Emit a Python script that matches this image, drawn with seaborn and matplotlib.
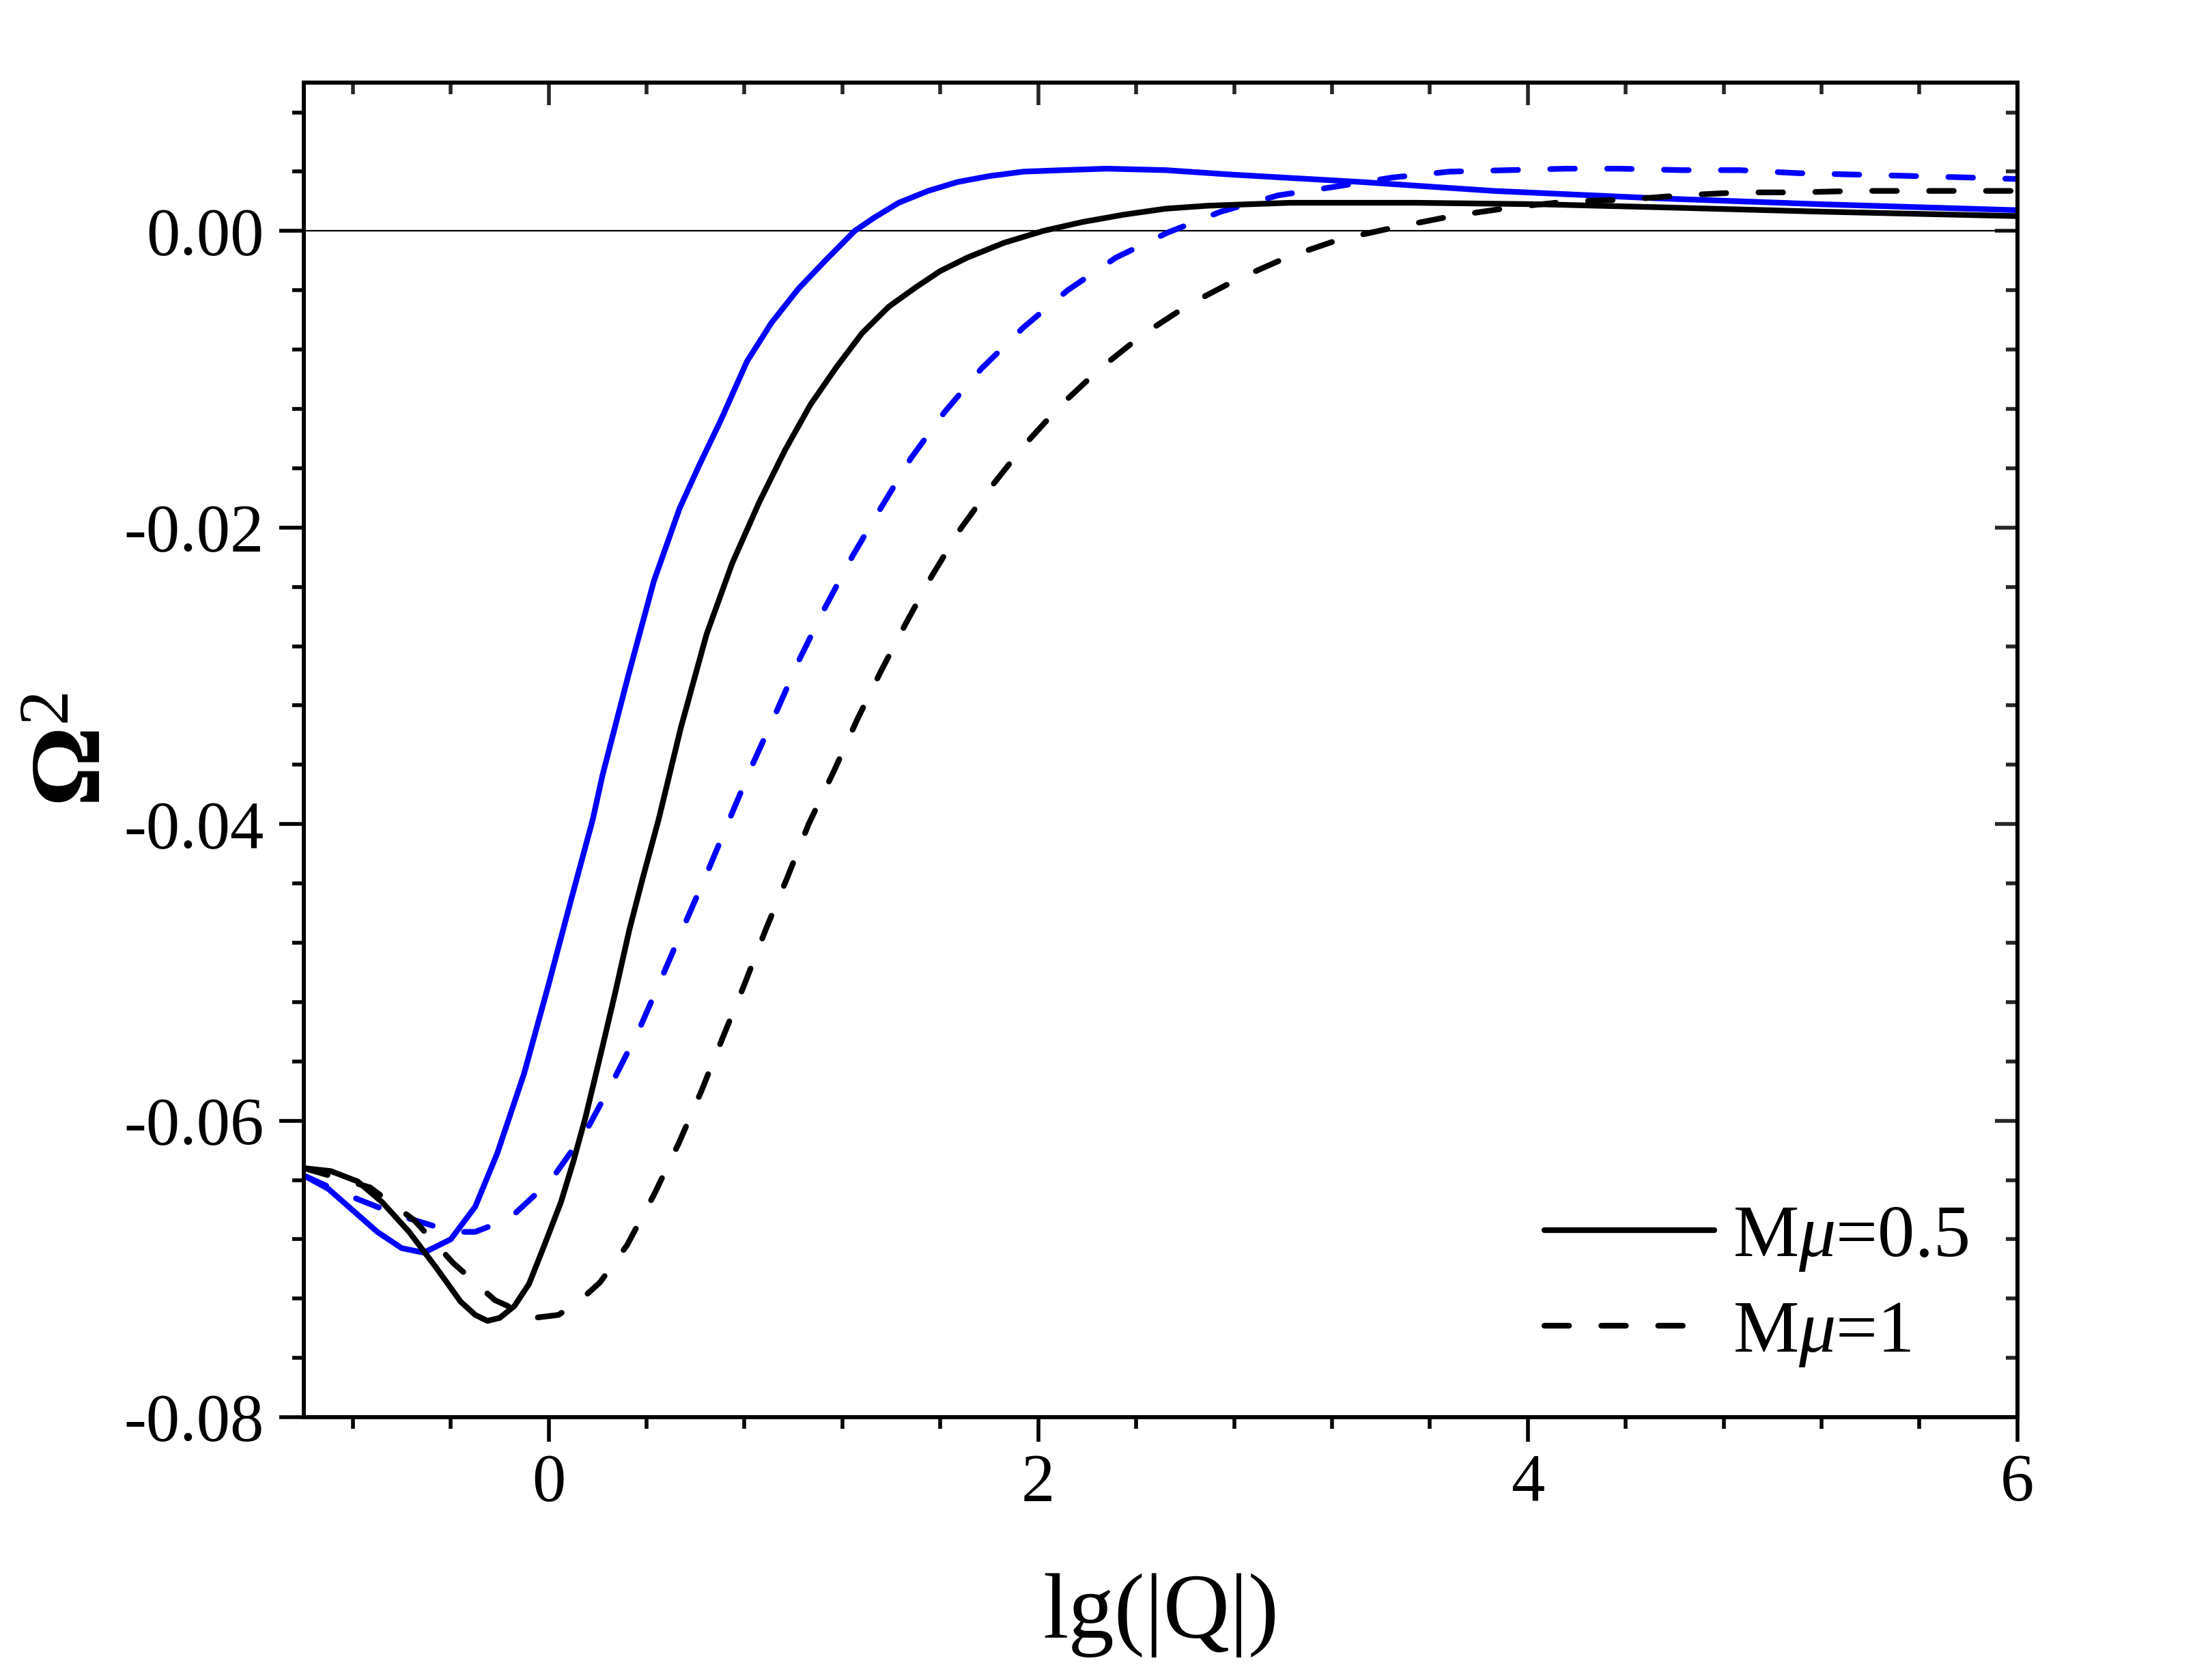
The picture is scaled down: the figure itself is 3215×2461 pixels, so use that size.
import numpy as np
import pandas as pd
import seaborn as sns
import matplotlib
matplotlib.use("Agg")
import matplotlib.pyplot as plt
from matplotlib.ticker import MultipleLocator, FormatStrFormatter, NullFormatter
from matplotlib.lines import Line2D

# curves: lg(|Q|) vs Omega^2
# black solid (M mu = 0.5)
x_black_05 = [-1.00, -0.89, -0.78, -0.68, -0.57, -0.46, -0.36, -0.30, -0.25, -0.20, -0.14, -0.08,
              -0.02, 0.05, 0.10, 0.15, 0.22, 0.27, 0.33, 0.385, 0.449, 0.54, 0.645, 0.75, 0.86,
              0.965, 1.07, 1.175, 1.28, 1.39, 1.50, 1.60, 1.71, 1.86, 2.02, 2.18, 2.35, 2.52,
              2.69, 2.86, 3.03, 3.54, 4.05, 4.53, 5.20, 6.00]
y_black_05 = [-0.0632, -0.0634, -0.0641, -0.0655, -0.0675, -0.0699, -0.0722, -0.0731, -0.0735,
              -0.0733, -0.0725, -0.0710, -0.0685, -0.0655, -0.0628, -0.0598, -0.0550, -0.0515,
              -0.0471, -0.0436, -0.0397, -0.0335, -0.0272, -0.0224, -0.0183, -0.0148, -0.0117,
              -0.0092, -0.0069, -0.0051, -0.0038, -0.0027, -0.0018, -0.0008, 0.0000, 0.0006,
              0.0011, 0.0015, 0.0017, 0.0018, 0.0019, 0.0019, 0.0018, 0.0016, 0.0013, 0.0010]

# blue solid (M mu = 0.5)
x_blue_05 = [-1.00, -0.90, -0.70, -0.60, -0.51, -0.40, -0.30, -0.21, -0.10, 0.00, 0.09, 0.18,
             0.22, 0.325, 0.43, 0.535, 0.615, 0.705, 0.81, 0.91, 1.02, 1.13, 1.25, 1.33, 1.43,
             1.55, 1.67, 1.80, 1.94, 2.10, 2.28, 2.52, 2.79, 3.32, 3.86, 4.53, 5.20, 6.00]
y_blue_05 = [-0.0637, -0.0646, -0.0675, -0.0686, -0.0689, -0.0680, -0.0658, -0.0622, -0.0568,
             -0.0508, -0.0452, -0.0397, -0.0367, -0.0300, -0.0236, -0.0187, -0.0158, -0.0127,
             -0.0088, -0.0062, -0.0039, -0.0020, 0.0000, 0.0009, 0.0019, 0.0027, 0.0033, 0.0037,
             0.0040, 0.0041, 0.0042, 0.0041, 0.0038, 0.0033, 0.0027, 0.0022, 0.0018, 0.0014]

# black dashed (M mu = 1)
x_black_1 = [-1.00, -0.73, -0.55, -0.39, -0.22, -0.06, 0.04, 0.13, 0.21, 0.32, 0.43, 0.532,
             0.624, 0.711, 0.80, 0.887, 0.975, 1.062, 1.166, 1.259, 1.357, 1.458, 1.564, 1.682,
             1.801, 1.94, 2.089, 2.251, 2.426, 2.612, 2.808, 3.013, 3.226, 3.445, 3.69, 3.94,
             4.17, 4.39, 4.63, 4.865, 5.10, 5.34, 5.58, 5.81, 6.00]
y_black_1 = [-0.0632, -0.0645, -0.0667, -0.0696, -0.0721, -0.0733, -0.0731, -0.0721, -0.0709,
             -0.0684, -0.0650, -0.0615, -0.0580, -0.0544, -0.0508, -0.0471, -0.0436, -0.0400,
             -0.0364, -0.0330, -0.0297, -0.0265, -0.0233, -0.0201, -0.0174, -0.0145, -0.0118,
             -0.0093, -0.0070, -0.0050, -0.0033, -0.0018, -0.0006, 0.0002, 0.0010, 0.0016,
             0.0020, 0.0021, 0.0024, 0.0026, 0.0026, 0.0027, 0.0027, 0.0027, 0.0027]

# blue dashed (M mu = 1)
x_blue_1 = [-1.00, -0.84, -0.61, -0.39, -0.30, -0.16, 0.01, 0.156, 0.264, 0.371, 0.466, 0.56,
            0.652, 0.743, 0.835, 0.931, 1.027, 1.129, 1.242, 1.36, 1.481, 1.618, 1.767, 1.94,
            2.12, 2.317, 2.53, 2.746, 2.98, 3.22, 3.445, 3.68, 3.92, 4.156, 4.376, 4.63, 4.865,
            5.10, 5.34, 5.58, 5.81, 6.00]
y_blue_1 = [-0.0637, -0.0649, -0.0664, -0.0675, -0.0675, -0.0666, -0.0640, -0.0606, -0.0573,
            -0.0538, -0.0502, -0.0466, -0.0431, -0.0395, -0.0359, -0.0324, -0.0288, -0.0254,
            -0.0219, -0.0186, -0.0153, -0.0122, -0.0093, -0.0065, -0.0040, -0.0018, -0.0001,
            0.0013, 0.0024, 0.0030, 0.0036, 0.0040, 0.0041, 0.0042, 0.0042, 0.0041, 0.0041,
            0.0039, 0.0038, 0.0037, 0.0036, 0.0035]

legend_labels = ["M$\\mu$=0.5", "M$\\mu$=1"]

frames = []
for xs, ys, col, mass in [(x_blue_1, y_blue_1, "blue", "1"),
                          (x_black_1, y_black_1, "black", "1"),
                          (x_blue_05, y_blue_05, "blue", "0.5"),
                          (x_black_05, y_black_05, "black", "0.5")]:
    frames.append(pd.DataFrame({"lgQ": xs, "omega2": ys, "colour": col, "mass": mass}))
df = pd.concat(frames, ignore_index=True)

sns.set_style("ticks")
plt.rcParams["font.family"] = ["Liberation Serif", "DejaVu Serif"]
plt.rcParams["mathtext.fontset"] = "custom"
plt.rcParams["mathtext.rm"] = "Liberation Serif"
plt.rcParams["mathtext.it"] = "Liberation Serif:italic"
plt.rcParams["mathtext.bf"] = "Liberation Serif:bold"
plt.rcParams["axes.unicode_minus"] = False
plt.rcParams["text.color"] = "black"
plt.rcParams["axes.labelcolor"] = "black"
plt.rcParams["lines.scale_dashes"] = False

fig, ax = plt.subplots(figsize=(32.16, 24.61), dpi=100)
fig.subplots_adjust(left=0.1384, right=0.9188, bottom=0.1564, top=0.9508)

lw = 6.0
dash = (26, 34)   # points, round caps lengthen each dash
sns.lineplot(data=df, x="lgQ", y="omega2", hue="colour", style="mass",
             palette={"black": "#000000", "blue": "#0000ff"},
             dashes={"0.5": "", "1": dash}, linewidth=lw,
             estimator=None, sort=False, legend=False, ax=ax)
for ln in ax.lines:
    ln.set_linewidth(lw)
    if ln.get_linestyle() not in ("-", "solid"):
        ln.set_dashes(dash)
    ln.set_dash_capstyle("round")
    ln.set_solid_capstyle("round")
    ln.set_solid_joinstyle("round")

ax.axhline(0, color="black", lw=1.6, zorder=1)

ax.set_xlim(-1, 6)
ax.set_ylim(-0.08, 0.01)
ax.xaxis.set_major_locator(MultipleLocator(2))
ax.xaxis.set_minor_locator(MultipleLocator(0.4))
ax.yaxis.set_major_locator(MultipleLocator(0.02))
ax.yaxis.set_minor_locator(MultipleLocator(0.004))
ax.yaxis.set_major_formatter(FormatStrFormatter("%.2f"))
ax.xaxis.set_major_formatter(FormatStrFormatter("%d"))

ax.tick_params(which="both", direction="out", width=4, top=False, right=False,
               labelsize=71, colors="black")
ax.tick_params(axis="x", which="major", length=26, pad=12)
ax.tick_params(axis="y", which="major", length=26, pad=16)
ax.tick_params(which="minor", length=12)

for s in ax.spines.values():
    s.set_visible(True)
    s.set_linewidth(4.3)
    s.set_color("black")

# inward ticks on top and right
top = ax.secondary_xaxis("top")
top.xaxis.set_major_locator(MultipleLocator(2))
top.xaxis.set_minor_locator(MultipleLocator(0.4))
top.xaxis.set_major_formatter(NullFormatter())
top.tick_params(which="both", direction="in", width=4)
top.tick_params(which="major", length=24)
top.tick_params(which="minor", length=12)
top.spines["top"].set_linewidth(4.3)

right = ax.secondary_yaxis("right")
right.yaxis.set_major_locator(MultipleLocator(0.02))
right.yaxis.set_minor_locator(MultipleLocator(0.004))
right.yaxis.set_major_formatter(NullFormatter())
right.tick_params(which="both", direction="in", width=4)
right.tick_params(which="major", length=24)
right.tick_params(which="minor", length=12)
right.spines["right"].set_linewidth(4.3)

ax.set_xlabel("lg(|Q|)", fontsize=97, labelpad=62, color="black")
ax.set_ylabel("Ω$^{2}$", fontsize=106, fontweight="bold", labelpad=2, color="black")

handles = [Line2D([], [], color="black", lw=lw, solid_capstyle="round"),
           Line2D([], [], color="black", lw=lw, dashes=dash, dash_capstyle="round")]
leg = ax.legend(handles, legend_labels, loc="center left", bbox_to_anchor=(0.724, 0.098),
                frameon=False, fontsize=78, handlelength=2.3, handletextpad=0.25,
                labelspacing=0.36, borderpad=0, borderaxespad=0)
for t in leg.get_texts():
    t.set_color("black")

fig.savefig("out.png", dpi=100)
